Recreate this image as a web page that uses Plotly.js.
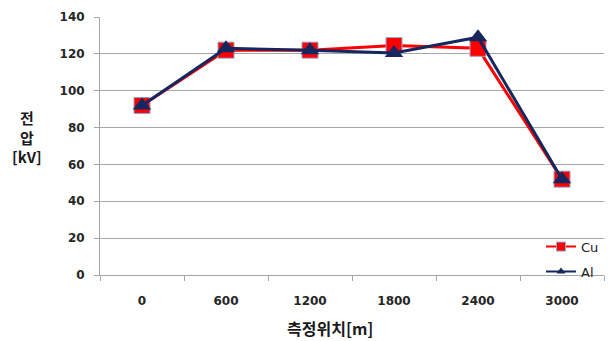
<!DOCTYPE html>
<html>
<head>
<meta charset="utf-8">
<script src="https://cdn.plot.ly/plotly-3.0.1.min.js"></script>
<style>
  html, body { margin: 0; padding: 0; background: #fff; }
  #chart { width: 608px; height: 341px; }
</style>
</head>
<body>
<div id="chart"></div>
<script>
// Measurement positions [m] and measured voltage [kV]
const positions = ['0', '600', '1200', '1800', '2400', '3000'];
const cuVoltage = [92, 122, 122, 124.5, 123, 52];
const alVoltage = [92, 123, 122, 120.5, 129, 52];
const yTicks = [0, 20, 40, 60, 80, 100, 120, 140];

const tickFont = { family: 'DejaVu Sans, Verdana, sans-serif', size: 12, color: '#262626', weight: 'bold' };

const cuLine = { color: '#ff0000', width: 3 };
const alLine = { color: '#14275f', width: 3 };

const traces = [
  {
    name: 'Cu', x: positions, y: cuVoltage, type: 'scatter', mode: 'lines+markers',
    showlegend: false,
    line: cuLine,
    marker: { symbol: 'square', size: 16, color: '#ff0000', line: { color: '#8ea5d0', width: 1 } }
  },
  {
    name: 'Al', x: positions, y: alVoltage, type: 'scatter', mode: 'lines+markers',
    showlegend: false,
    line: alLine,
    marker: { symbol: 'triangle-up', size: 16, color: '#14275f' }
  },
  // legend entries with smaller symbols
  {
    name: 'Cu', x: [positions[0]], y: [null], type: 'scatter', mode: 'lines+markers',
    legendgroup: 'cu', line: { color: '#ff0000', width: 2 },
    marker: { symbol: 'square', size: 9, color: '#ff0000', line: { color: '#8ea5d0', width: 1 } }
  },
  {
    name: 'Al', x: [positions[0]], y: [null], type: 'scatter', mode: 'lines+markers',
    legendgroup: 'al', line: { color: '#14275f', width: 2 },
    marker: { symbol: 'triangle-up', size: 8, color: '#14275f' }
  }
];

const layout = {
  width: 608, height: 341,
  margin: { l: 100, r: 4, t: 17, b: 66 },
  paper_bgcolor: '#fff', plot_bgcolor: '#fff',
  showlegend: true,
  legend: {
    x: 1.0, xanchor: 'right', y: 0.168, yanchor: 'top',
    bgcolor: 'rgba(0,0,0,0)',
    traceorder: 'grouped', tracegroupgap: 5,
    font: { family: 'DejaVu Sans, Verdana, sans-serif', size: 13, color: '#1a1a1a' },
    itemwidth: 30
  },
  xaxis: {
    type: 'category',
    range: [-0.5, 5.5],
    tickson: 'boundaries',
    ticks: 'outside', ticklen: 5, tickcolor: '#a6a6a6', tickwidth: 1,
    showline: true, linecolor: '#a6a6a6', linewidth: 1,
    showgrid: false, zeroline: false,
    tickfont: tickFont,
    ticklabelstandoff: 15,
    fixedrange: true
  },
  yaxis: {
    range: [0, 140],
    tickvals: yTicks,
    ticks: 'outside', ticklen: 5, tickcolor: '#a6a6a6',
    showline: true, linecolor: '#a6a6a6', linewidth: 1,
    showgrid: true, gridcolor: '#a6a6a6', gridwidth: 1,
    zeroline: false,
    tickfont: tickFont,
    ticklabelstandoff: 7,
    fixedrange: true
  },
  annotations: [
    {
      text: '전<br>압<br>[kV]', xref: 'paper', yref: 'paper',
      x: -0.145, y: 0.535, xanchor: 'center', yanchor: 'middle', showarrow: false,
      font: { family: 'Noto Sans CJK KR, sans-serif', size: 15, color: '#1a1a1a', weight: 'bold' },
      align: 'center'
    },
    {
      text: '측정위치[m]', xref: 'paper', yref: 'paper',
      x: 0.456, y: -0.205, xanchor: 'center', yanchor: 'middle', showarrow: false,
      font: { family: 'Noto Sans CJK KR, sans-serif', size: 16, color: '#1a1a1a', weight: 'bold' }
    }
  ]
};

Plotly.newPlot('chart', traces, layout, { displayModeBar: false, staticPlot: true });
</script>
</body>
</html>
